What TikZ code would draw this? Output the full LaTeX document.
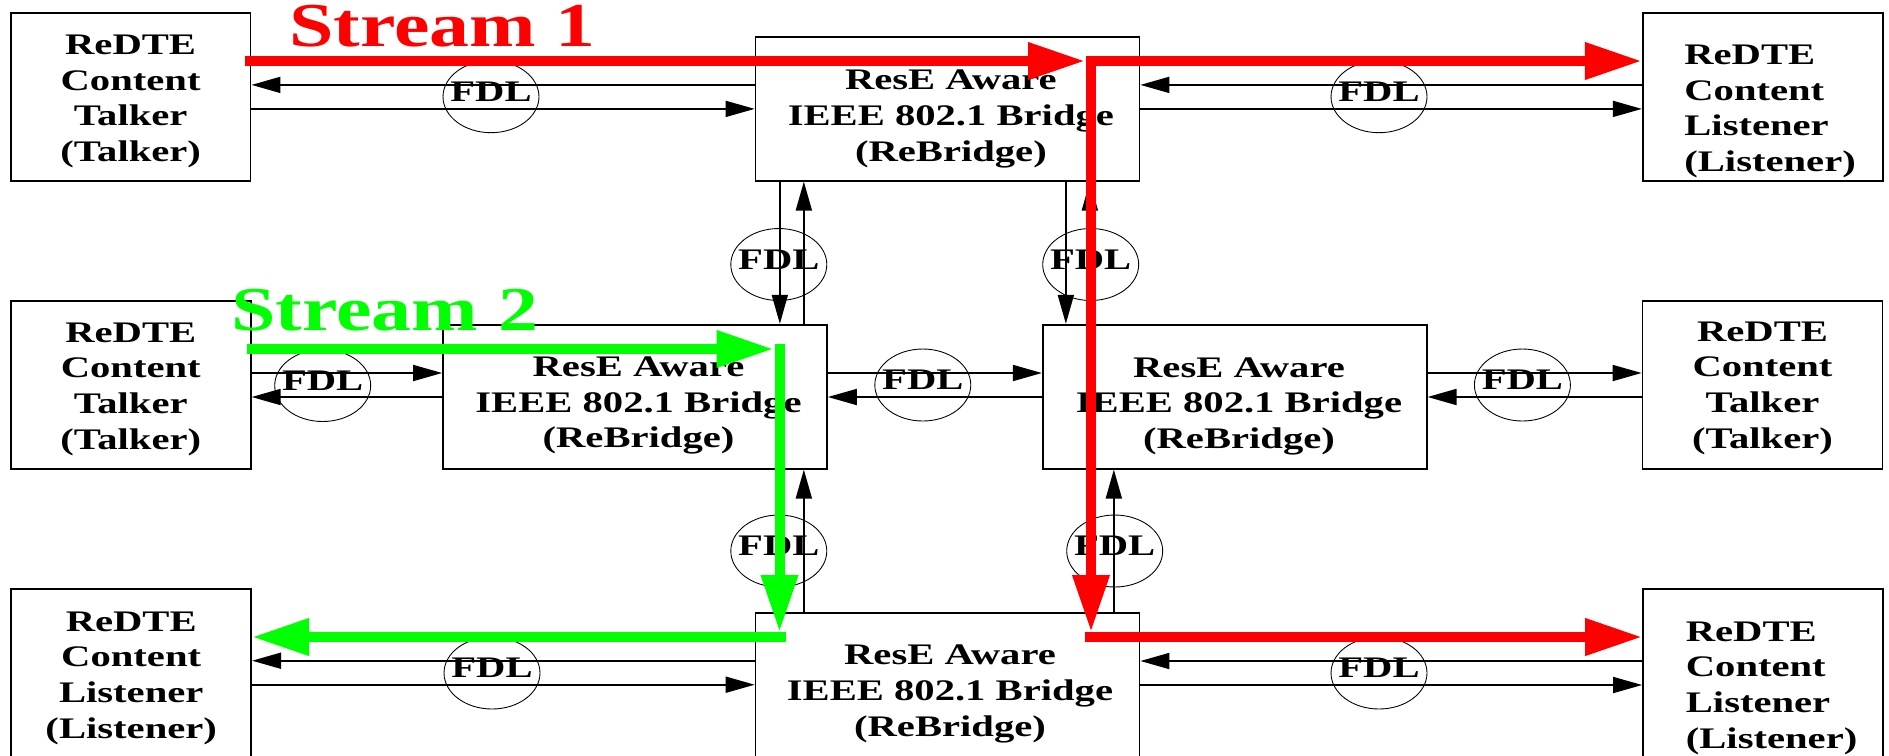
\documentclass[tikz,border=0pt]{standalone}
\usepackage{fontspec}
\newfontfamily\diafont[FakeStretch=1.36]{Liberation Serif}
\newfontfamily\bigfont[FakeStretch=1.28]{Liberation Serif}
\usetikzlibrary{arrows.meta,shapes.geometric}
\newcommand\boxfont{\diafont\bfseries\fontsize{17}{20.3}\selectfont}
\newcommand\streamfont{\bigfont\bfseries\fontsize{35.5}{42}\selectfont}
\definecolor{streamred}{RGB}{255,0,0}
\definecolor{streamgreen}{RGB}{0,255,0}

\begin{document}
\begin{tikzpicture}[x=0.02cm, y=-0.02cm,
  box/.style={draw, line width=1pt, minimum width=4.8cm, minimum height=3.36cm, inner sep=0pt},
  bridge/.style={box, minimum width=7.68cm, minimum height=2.88cm},
  txt/.style={font=\boxfont, align=center, inner sep=0pt},
  fdl/.style={ellipse, draw, line width=0.5pt, minimum width=1.92cm, minimum height=1.44cm, inner sep=0pt,
    label={[font=\boxfont, inner sep=0pt, yshift=0.1cm]center:FDL}},
  link/.style={line width=1pt, -{Triangle[length=0.58cm, width=0.32cm]}},
  hi/.style={transform canvas={yshift=0.24cm}},
  lo/.style={transform canvas={yshift=-0.24cm}},
  flow/.style={line width=0.2cm, -{Triangle[length=1.14cm, width=0.7cm]}}]
\path[use as bounding box] (0,0) rectangle (1889,755);
\clip (0,0) rectangle (1889,755);

% stations and bridges
\node[box] (tl) at (130.6,96.9) {};
\node[box] (tr) at (1762.7,96.9) {};
\node[bridge] (tb) at (947.5,108.7) {};
\node[box] (ml) at (130.8,385) {};
\node[bridge] (mlb) at (635,396.7) {};
\node[bridge] (mrb) at (1234.7,396.7) {};
\node[box] (mr) at (1762.5,385) {};
\node[box] (bl) at (131.2,672.7) {};
\node[bridge] (bb) at (947.5,684.7) {};
\node[box] (br) at (1763,673) {};

\node[txt] (tl-t) at (130.6,101.3) {ReDTE\\Content\\Talker\\(Talker)};
\node[txt, align=left, anchor=west] (tr-t) at (1684,111.3) {ReDTE\\Content\\Listener\\(Listener)};
\node[txt] (tb-t) at (950.9,119) {ResE Aware\\IEEE 802.1 Bridge\\(ReBridge)};
\node[txt] (ml-t) at (130.8,389) {ReDTE\\Content\\Talker\\(Talker)};
\node[txt] (mlb-t) at (638.5,405.7) {ResE Aware\\IEEE 802.1 Bridge\\(ReBridge)};
\node[txt] (mrb-t) at (1239,406.3) {ResE Aware\\IEEE 802.1 Bridge\\(ReBridge)};
\node[txt] (mr-t) at (1762.5,388) {ReDTE\\Content\\Talker\\(Talker)};
\node[txt] (bl-t) at (131.2,678) {ReDTE\\Content\\Listener\\(Listener)};
\node[txt] (bb-t) at (950,694) {ResE Aware\\IEEE 802.1 Bridge\\(ReBridge)};
\node[txt, align=left, anchor=west] (br-t) at (1685.5,688) {ReDTE\\Content\\Listener\\(Listener)};

% links
\draw[link, hi] (tb.west |- tl.east) -- (tl.east);
\draw[link, lo] (tl.east) -- (tb.west |- tl.east);
\draw[link, hi] (tr.west) -- (tb.east |- tr.west);
\draw[link, lo] (tb.east |- tr.west) -- (tr.west);
\draw[link, hi] (ml.east) -- (mlb.west |- ml.east);
\draw[link, lo] (mlb.west |- ml.east) -- (ml.east);
\draw[link, hi] (mlb.east |- ml.east) -- (mrb.west |- ml.east);
\draw[link, lo] (mrb.west |- ml.east) -- (mlb.east |- ml.east);
\draw[link, hi] (mrb.east |- mr.west) -- (mr.west);
\draw[link, lo] (mr.west) -- (mrb.east |- mr.west);
\draw[link, hi] (bb.west |- bl.east) -- (bl.east);
\draw[link, lo] (bl.east) -- (bb.west |- bl.east);
\draw[link, hi] (br.west) -- (bb.east |- br.west);
\draw[link, lo] (bb.east |- br.west) -- (br.west);

\draw[link, transform canvas={xshift=-0.96cm}] (tb.south -| mlb.north east) -- (mlb.north east);
\draw[link, transform canvas={xshift=-0.48cm}] (mlb.north east) -- (tb.south -| mlb.north east);
\draw[link, transform canvas={xshift=0.48cm}] (tb.south -| mrb.north west) -- (mrb.north west);
\draw[link, transform canvas={xshift=0.96cm}] (mrb.north west) -- (tb.south -| mrb.north west);
\draw[link, transform canvas={xshift=-0.96cm}] (mlb.south east) -- (bb.north -| mlb.south east);
\draw[link, transform canvas={xshift=-0.48cm}] (bb.north -| mlb.south east) -- (mlb.south east);
\draw[link, transform canvas={xshift=0.96cm}] (mrb.south west) -- (bb.north -| mrb.south west);
\draw[link, transform canvas={xshift=1.44cm}] (bb.north -| mrb.south west) -- (mrb.south west);

\node[fdl] (f1) at (491,96.7) {};
\node[fdl] (f2) at (1379,96.7) {};
\node[fdl] (f3) at (778.8,264.5) {};
\node[fdl] (f4) at (1090.7,264.5) {};
\node[fdl] (f5) at (322.7,385.5) {};
\node[fdl] (f6) at (922.8,385) {};
\node[fdl] (f7) at (1522.4,385) {};
\node[fdl] (f8) at (778.8,551) {};
\node[fdl] (f9) at (1114.7,551) {};
\node[fdl] (f10) at (492,673) {};
\node[fdl] (f11) at (1379,673) {};

% streams
\coordinate (r1) at (245,61);
\coordinate (r2) at (1091,61);
\coordinate (r3) at (1091,637);
\draw[flow, streamred] (r1) -- ([xshift=-0.12cm]r2);
\draw[flow, streamred] ([yshift=0.1cm]r2) -- ([yshift=0.1cm]r3);
\draw[flow, streamred] (r2) -- (r2 -| tr.west);
\draw[flow, streamred] ([xshift=-0.12cm]r3) -- (r3 -| br.west);

\coordinate (g1) at (247,349);
\coordinate (g2) at (779.5,349);
\coordinate (g3) at (779.5,637);
\draw[flow, streamgreen] (g1) -- ([xshift=-0.12cm]g2);
\draw[flow, streamgreen] ([yshift=0.1cm]g2) -- ([yshift=0.1cm]g3);
\draw[flow, streamgreen] ([xshift=0.12cm]g3) -- (g3 -| bl.east);

\node[anchor=base, font=\streamfont, text=streamred, inner sep=0pt] (s1) at (442.5,46.7) {Stream 1};
\node[anchor=base, font=\streamfont, text=streamgreen, inner sep=0pt] (s2) at (384.8,330) {Stream 2};
\end{tikzpicture}
\end{document}
